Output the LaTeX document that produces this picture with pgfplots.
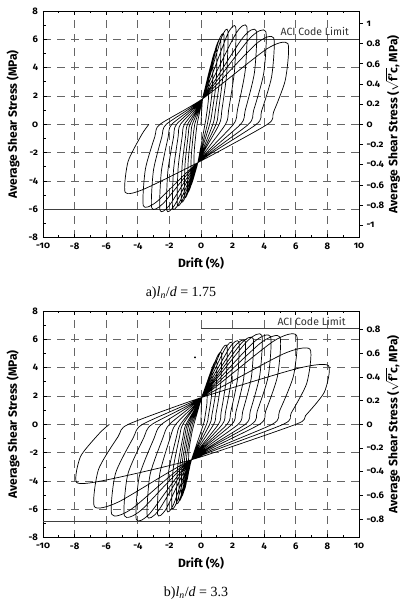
\documentclass[border=0pt]{standalone}
\usepackage{amsmath}
\usepackage{fontspec}
\setmainfont{Fira Sans}[Numbers=OldStyle]
\newfontfamily\capfont{Liberation Serif}
\usepackage{pgfplots}
\pgfplotsset{compat=1.18}

\pgfplotsset{
  hyst/.style={
    scale only axis, width=316pt, height=226.7pt, anchor=south west,
    xmin=-10, xmax=10, ymin=-8, ymax=8,
    xtick={-10,-8,...,10}, ytick={-8,-6,...,8},
    minor x tick num=1, minor y tick num=1,
    ytick pos=left, xtick pos=both, xticklabel pos=bottom,
    tick align=inside, major tick length=4pt, minor tick length=2.5pt,
    grid=major,
    major grid style={black!60, line width=0.9pt, dash pattern=on 8pt off 6pt},
    axis line style={line width=0.9pt},
    tick style={black, line width=0.7pt},
    tick label style={font=\bfseries\fontsize{9.5}{10}\selectfont},
    xticklabel style={yshift=-2pt},
    yticklabel style={xshift=-1.5pt},
    /pgf/number format/assume math mode=true,
    label style={font=\bfseries\fontsize{12}{14}\selectfont},
    xlabel={Drift (\%)}, ylabel={Average Shear Stress (MPa)},
    xlabel style={at={(axis description cs:0.5,-0.1116)}, anchor=center},
    ylabel style={at={(axis description cs:-0.095,0.5)}, anchor=center},
  },
  rightax/.style={
    scale only axis, width=316pt, height=226.7pt, anchor=south west,
    xmin=-10, xmax=10,
    axis x line=none, axis y line*=right,
    ytick={-1,-0.8,-0.6,-0.4,-0.2,0,0.2,0.4,0.6,0.8,1},
    tick align=outside, major tick length=4pt,
    axis line style={line width=0.9pt},
    tick style={black, line width=0.7pt},
    tick label style={font=\bfseries\fontsize{9.5}{10}\selectfont},
    /pgf/number format/assume math mode=true,
    label style={font=\bfseries\fontsize{12}{14}\selectfont},
    ylabel={Average Shear Stress (\(\sqrt{\text{f'c}}\), MPa)},
    ylabel style={at={(axis description cs:1.1076,0.5)}, anchor=center},
  },
  loop/.style={black, line width=0.7pt, smooth, tension=0.4},
  aci/.style={black!75, line width=0.9pt},
}

\begin{document}
\begin{tikzpicture}
\useasboundingbox (0pt,0pt) rectangle (400pt,609pt);

% ---------- a) ln/d = 1.75 ----------
\begin{axis}[hyst, at={(43pt,371.3pt)}]
\addplot[aci] coordinates {(0,6)(10,6)};
\addplot[aci] coordinates {(-10,-6)(0,-6)};
\addplot[loop] coordinates {
(0,0)
(0.1,1.8)(0.4,3.06)(0.5,3.2)(0.47,1.76)(0.325,0.48)(0.25,0)(-0.2,-2.7)(-0.39,-3.42)(-0.45,-3.5)(-0.43,-1.93)(-0.31,-0.53)(-0.25,0)
(0.1,1.8)(0.59,4.05)(0.75,4.3)(0.71,2.37)(0.51,0.65)(0.4,0)(-0.2,-2.7)(-0.54,-4.05)(-0.65,-4.2)(-0.62,-2.31)(-0.48,-0.63)(-0.4,0)
(0.1,1.8)(0.78,4.86)(1.0,5.2)(0.95,2.86)(0.69,0.78)(0.55,0)(-0.2,-2.7)(-0.69,-4.5)(-0.85,-4.7)(-0.81,-2.59)(-0.64,-0.71)(-0.55,0)
(0.1,1.8)(0.96,5.49)(1.25,5.9)(1.19,3.25)(0.9,0.89)(0.75,0)(-0.2,-2.7)(-0.84,-4.86)(-1.05,-5.1)(-1.01,-2.81)(-0.81,-0.77)(-0.7,0)
(0.1,1.8)(1.11,5.85)(1.45,6.3)(1.39,3.47)(1.1,0.95)(0.95,0)(-0.2,-2.7)(-0.99,-5.13)(-1.25,-5.4)(-1.2,-2.97)(-0.97,-0.81)(-0.85,0)
(0.1,1.8)(1.3,6.12)(1.7,6.6)(1.63,3.63)(1.32,0.99)(1.15,0)(-0.2,-2.7)(-1.18,-5.36)(-1.5,-5.65)(-1.45,-3.11)(-1.19,-0.85)(-1.05,0)
(0.1,1.8)(1.68,6.35)(2.2,6.85)(2.12,3.77)(1.75,1.03)(1.55,0)(-0.2,-2.7)(-1.4,-5.58)(-1.8,-5.9)(-1.74,-3.25)(-1.45,-0.89)(-1.3,0)
(0.1,1.8)(2.2,6.39)(2.9,6.9)(2.8,3.8)(2.31,1.04)(2.05,0)(-0.2,-2.7)(-1.68,-5.72)(-2.17,-6.05)(-2.1,-3.33)(-1.74,-0.91)(-1.55,0)
(0.1,1.8)(2.65,6.12)(3.5,6.6)(3.38,3.63)(2.8,0.99)(2.5,0)(-0.2,-2.7)(-2.0,-5.72)(-2.6,-6.05)(-2.51,-3.33)(-2.08,-0.91)(-1.85,0)
(0.1,1.8)(3.1,6.08)(4.1,6.55)(3.97,3.6)(3.33,0.98)(3.0,0)(-0.2,-2.7)(-2.39,-5.58)(-3.12,-5.9)(-3.01,-3.25)(-2.48,-0.89)(-2.2,0)
(0.1,1.8)(3.48,5.67)(4.6,6.1)(4.47,3.36)(3.83,0.92)(3.5,0)(-0.2,-2.7)(-2.79,-5.45)(-3.65,-5.75)(-3.52,-3.16)(-2.92,-0.86)(-2.6,0)
(0.1,1.8)(4.15,5.31)(5.5,5.7)(5.34,3.14)(4.59,0.86)(4.2,0)(-0.2,-2.7)(-3.65,-4.59)(-4.8,-4.8)(-4.62,-2.64)(-3.75,-0.72)(-3.3,0)
};
\node[font=\fontsize{10.5}{12}\selectfont, text=black!80] at (axis cs:7.2,6.55) {ACI Code Limit};
\end{axis}
\begin{axis}[rightax, at={(43pt,371.3pt)}, ymin=-1.1236, ymax=1.1236]
\addplot[draw=none] coordinates {(0,0)};
\end{axis}
\node[font=\capfont\fontsize{14}{16}\selectfont] at (181pt,316pt)
  {a)\textit{l}\textsubscript{\textit{n}}/\textit{d} = 1.75};

% ---------- b) ln/d = 3.3 ----------
\begin{axis}[hyst, at={(43pt,71.3pt)}]
\addplot[aci] coordinates {(0,6.8)(10,6.8)};
\addplot[aci] coordinates {(-10,-6.85)(0,-6.85)};
\addplot[loop] coordinates {
(0,0)
(0.05,1.9)(0.31,2.53)(0.4,2.6)(0.37,1.43)(0.23,0.39)(0.15,0)(-0.6,-2.5)(-0.75,-3.22)(-0.8,-3.3)(-0.76,-1.82)(-0.56,-0.5)(-0.45,0)
(0.05,1.9)(0.54,3.43)(0.7,3.6)(0.66,1.98)(0.46,0.54)(0.35,0)(-0.6,-2.5)(-0.86,-3.85)(-0.95,-4.0)(-0.9,-2.2)(-0.67,-0.6)(-0.55,0)
(0.05,1.9)(0.76,4.15)(1.0,4.4)(0.95,2.42)(0.69,0.66)(0.55,0)(-0.6,-2.5)(-0.98,-4.39)(-1.1,-4.6)(-1.05,-2.53)(-0.79,-0.69)(-0.65,0)
(0.05,1.9)(0.99,4.69)(1.3,5.0)(1.24,2.75)(0.95,0.75)(0.8,0)(-0.6,-2.5)(-1.09,-4.75)(-1.25,-5.0)(-1.19,-2.75)(-0.9,-0.75)(-0.75,0)
(0.05,1.9)(1.25,5.14)(1.65,5.5)(1.58,3.03)(1.27,0.83)(1.1,0)(-0.6,-2.5)(-1.2,-5.02)(-1.4,-5.3)(-1.33,-2.92)(-1.02,-0.8)(-0.85,0)
(0.05,1.9)(1.51,5.32)(2.0,5.7)(1.92,3.14)(1.55,0.86)(1.35,0)(-0.6,-2.5)(-1.31,-5.2)(-1.55,-5.5)(-1.48,-3.03)(-1.13,-0.83)(-0.95,0)
(0.05,1.9)(1.81,5.41)(2.4,5.8)(2.31,3.19)(1.88,0.87)(1.65,0)(-0.6,-2.5)(-1.54,-5.52)(-1.85,-5.85)(-1.77,-3.22)(-1.36,-0.88)(-1.15,0)
(0.05,1.9)(2.11,5.46)(2.8,5.85)(2.7,3.22)(2.21,0.88)(1.95,0)(-0.6,-2.5)(-1.76,-5.71)(-2.15,-6.07)(-2.05,-3.34)(-1.56,-0.91)(-1.3,0)
(0.05,1.9)(2.49,5.64)(3.3,6.05)(3.19,3.33)(2.64,0.91)(2.35,0)(-0.6,-2.5)(-2.21,-5.97)(-2.75,-6.35)(-2.61,-3.49)(-1.95,-0.95)(-1.6,0)
(0.05,1.9)(2.9,5.84)(3.85,6.28)(3.72,3.45)(3.12,0.94)(2.8,0)(-0.6,-2.5)(-2.7,-6.1)(-3.4,-6.5)(-3.23,-3.58)(-2.42,-0.98)(-2.0,0)
(0.05,1.9)(3.31,5.77)(4.4,6.2)(4.26,3.41)(3.56,0.93)(3.2,0)(-0.6,-2.5)(-3.23,-6.28)(-4.1,-6.7)(-3.91,-3.69)(-2.98,-1.01)(-2.5,0)
(0.05,1.9)(3.76,5.73)(5.0,6.16)(4.84,3.39)(4.09,0.92)(3.7,0)(-0.6,-2.5)(-3.79,-6.06)(-4.85,-6.45)(-4.64,-3.55)(-3.63,-0.97)(-3.1,0)
(0.05,1.9)(4.55,5.84)(6.05,6.28)(5.86,3.45)(4.97,0.94)(4.5,0)(-0.6,-2.5)(-4.39,-5.97)(-5.65,-6.35)(-5.42,-3.49)(-4.29,-0.95)(-3.7,0)
(0.05,1.9)(5.19,4.96)(6.9,5.3)(6.7,2.92)(5.71,0.8)(5.2,0)(-0.6,-2.5)(-5.21,-5.47)(-6.75,-5.8)(-6.49,-3.19)(-5.25,-0.87)(-4.6,0)
(0.05,1.9)(6.06,3.93)(8.06,4.15)(7.81,2.28)(6.62,0.62)(6.0,0)(-0.6,-2.5)(-6.05,-3.94)(-7.87,-4.1)(-7.62,-2.26)(-6.42,-0.62)(-5.8,0)
};
\addplot[only marks, mark=*, mark size=0.7pt] coordinates {(-0.38,4.73)};
\node[font=\fontsize{10.5}{12}\selectfont, text=black!80] at (axis cs:7.0,7.25) {ACI Code Limit};
\end{axis}
\begin{axis}[rightax, at={(43pt,71.3pt)}, ymin=-0.958, ymax=0.958]
\addplot[draw=none] coordinates {(0,0)};
\end{axis}
\node[font=\capfont\fontsize{14}{16}\selectfont] at (196pt,16.3pt)
  {b)\textit{l}\textsubscript{\textit{n}}/\textit{d} = 3.3};
\end{tikzpicture}
\end{document}
